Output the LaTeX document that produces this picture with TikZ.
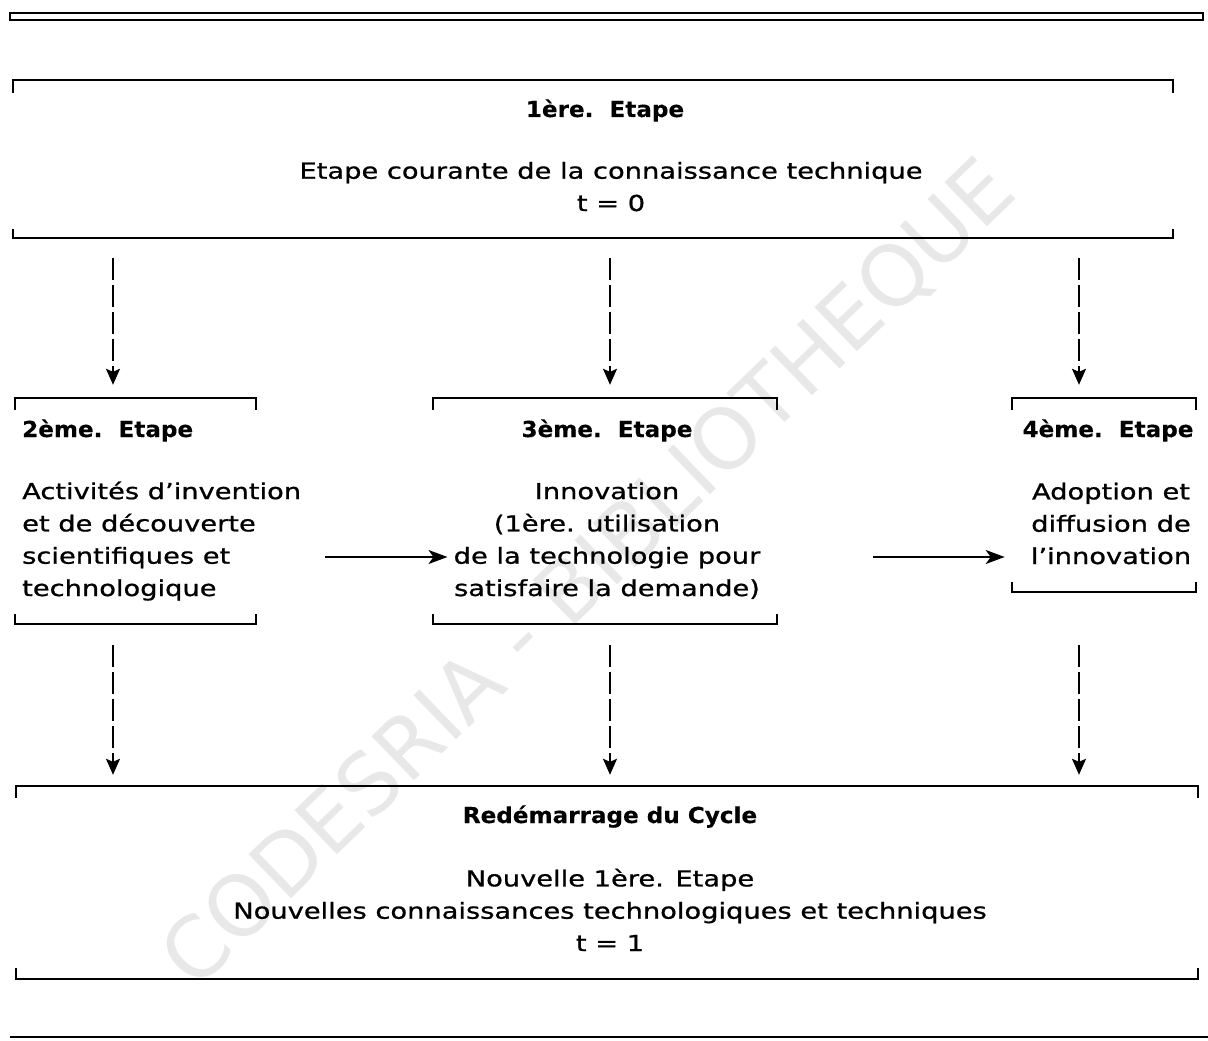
\documentclass[tikz,border=0pt]{standalone}
\usepackage{fontspec}
\setmainfont{DejaVu Sans}[FakeStretch=1.24,FakeBold=0.9,BoldFeatures={FakeStretch=1.05,FakeBold=0.3}]
\newfontfamily\wmfont{DejaVu Sans}
\usetikzlibrary{arrows.meta,calc}

% open box: top edge with ticks down, bottom edge with ticks up
\newcommand\openbox[3]{%
  \draw[boxline] ([yshift=-#2]#1.north west) -- (#1.north west)
    -- (#1.north east) -- ([yshift=-#2]#1.north east);
  \draw[boxline] ([yshift=#3]#1.south west) -- (#1.south west)
    -- (#1.south east) -- ([yshift=#3]#1.south east);}

\begin{document}
\begin{tikzpicture}[
  x=1pt, y=-1pt,
  stagebox/.style={rectangle, draw=none, inner sep=0pt},
  boxline/.style={line width=1.8pt},
  title/.style={font=\bfseries\fontsize{22}{32}\selectfont, inner sep=0pt},
  body/.style={font=\fontsize{22}{32.3}\selectfont, inner sep=0pt, align=#1},
  body/.default=center,
  dasharrow/.style={line width=1.6pt, dash pattern=on 22pt off 5pt,
                    -{Stealth[length=16pt,width=14pt,inset=3pt]}},
  arrow/.style={line width=1.6pt, -{Stealth[length=19pt,width=14pt,inset=5pt]}},
  wmark/.style={font=\wmfont\fontsize{84}{84}\selectfont, text=black!9, inner sep=0pt}
]
  \useasboundingbox (0,0) rectangle (1208,1041);

  % Watermark
  \node[wmark, rotate=44] (wm) at (590,575) {CODESRIA - BIBLIOTHEQUE};

  % Page rules
  \draw[line width=1.8pt] (10,13) rectangle (1203,20);
  \draw[line width=1.8pt] (10,1037) -- (1208,1037);

  % Stage boxes
  \node[stagebox, minimum width=1160pt, minimum height=158pt] (s1) at (593,159) {};
  \node[stagebox, minimum width=241pt, minimum height=226pt] (s2) at (135.5,511) {};
  \node[stagebox, minimum width=344pt, minimum height=226pt] (s3) at (605,511) {};
  \node[stagebox, minimum width=184pt, minimum height=194pt] (s4) at (1104,495) {};
  \node[stagebox, minimum width=1182pt, minimum height=193pt] (s5) at (607,882.5) {};
  \openbox{s1}{13pt}{9pt}
  \openbox{s2}{12pt}{10pt}
  \openbox{s3}{12pt}{10pt}
  \openbox{s4}{12pt}{10pt}
  \openbox{s5}{12pt}{11pt}

  % 1st stage
  \node[title, anchor=base] (t1) at (605,117) {1ère.\ \ Etape};
  \node[body, anchor=base] (b1) at (611,211)
    {Etape courante de la connaissance technique\\t = 0};

  % 2nd, 3rd, 4th stage
  \node[title, anchor=base west] (t2) at (22,437) {2ème.\ \ Etape};
  \node[body=left, anchor=base west] (b2) at (22,596)
    {Activités d'invention\\et de découverte\\scientifiques et\\technologique};
  \node[title, anchor=base] (t3) at (607,437) {3ème.\ \ Etape};
  \node[body, anchor=base] (b3) at (607,596)
    {Innovation\\(1ère. utilisation\\de la technologie pour\\satisfaire la demande)};
  \node[title, anchor=base] (t4) at (1108,437) {4ème.\ \ Etape};
  \node[body, anchor=base] (b4) at (1111,564)
    {Adoption et\\diffusion de\\l'innovation};

  % Restart
  \node[title, anchor=base] (t5) at (610,823) {Redémarrage du Cycle};
  \node[body, anchor=base] (b5) at (610,951)
    {Nouvelle 1ère. Etape\\Nouvelles connaissances technologiques et techniques\\t = 1};

  % Arrow columns
  \coordinate (c1) at (113,0);
  \coordinate (c2) at (610,0);
  \coordinate (c3) at (1079,0);
  \coordinate (h1) at (325,557);
  \coordinate (h2) at (873,557);

  \draw[dasharrow] ([yshift=-20pt]s1.south -| c1) -- ([yshift=13pt]s2.north -| c1);
  \draw[dasharrow] ([yshift=-20pt]s1.south -| c2) -- ([yshift=13pt]s3.north -| c2);
  \draw[dasharrow] ([yshift=-20pt]s1.south -| c3) -- ([yshift=13pt]s4.north -| c3);

  \draw[arrow, shorten >=6pt] (h1) -- (h1 -| b3.west);
  \draw[arrow, shorten >=26pt] (h2) -- (h2 -| b4.west);

  \draw[dasharrow] ([yshift=-21pt]s2.south -| c1) -- ([yshift=11pt]s5.north -| c1);
  \draw[dasharrow] ([yshift=-21pt]s3.south -| c2) -- ([yshift=11pt]s5.north -| c2);
  \draw[dasharrow] ([yshift=-53pt]s4.south -| c3) -- ([yshift=11pt]s5.north -| c3);
\end{tikzpicture}
\end{document}
